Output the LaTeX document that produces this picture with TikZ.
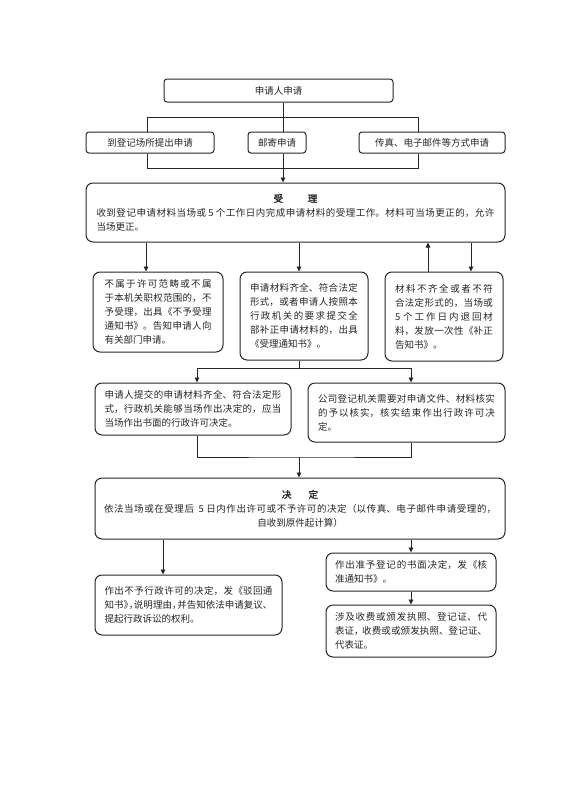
\documentclass[tikz,border=0pt]{standalone}
\usepackage{fontspec}
\setmainfont{Noto Sans CJK SC}[AutoFakeBold=2]
\usetikzlibrary{arrows.meta}
\XeTeXlinebreaklocale "zh"
\XeTeXlinebreakskip=0pt plus 3pt
\begin{document}
\begin{tikzpicture}[x=1pt,y=-1pt,
 box/.style={draw=black!85,line width=1pt,rounded corners=7pt,inner sep=0pt,
   font=\fontsize{9.5}{14}\selectfont,text=black!85,align=justify},
 sbox/.style={box,rounded corners=3pt,align=center},
 line/.style={draw=black!85,line width=0.9pt},
 arr/.style={line,-{Triangle[length=5pt,width=4.5pt]}}
]
\useasboundingbox[fill=white] (0,0) rectangle (565,800);

% row 1 and 2
\node[sbox,minimum width=229pt,minimum height=23pt] (apply) at (278.5,90.5) {申请人申请};
\node[sbox,minimum width=128pt,minimum height=21pt] (b1) at (150,142.5) {到登记场所提出申请};
\node[sbox,minimum width=58pt,minimum height=21pt] (b2) at (277,142.5) {邮寄申请};
\node[sbox,minimum width=146pt,minimum height=21pt] (b3) at (432,142.5) {传真、电子邮件等方式申请};

\coordinate (j1) at (283,117); \coordinate (j1l) at (147,117); \coordinate (j1r) at (418,117);
\coordinate (j2) at (283,168); \coordinate (j2l) at (147,168); \coordinate (j2r) at (418,168);

% accept
\node[box,minimum width=419pt,minimum height=59pt,text width=398pt] (accept) at (295.5,212.5)
 {{\centering\bfseries 受\hspace{2.6em}理\par}收到登记申请材料当场或 5 个工作日内完成申请材料的受理工作。材料可当场更正的，允许\linebreak 当场更正。};

\draw[line] (apply.south -| j1) -- (b2.north -| j1);
\draw[line] (b1.north -| j1l) |- (j1r) -- (b3.north -| j1r);
\draw[line] (b1.south -| j2l) |- (j2r) -- (b3.south -| j2r);
\draw[arr] (b2.south -| j2) -- (accept.north -| j2);

% row 3
\node[box,minimum width=130pt,minimum height=80pt,text width=107pt] (nA) at (158,312)
 {不属于许可范畴或不属\linebreak 于本机关职权范围的，不\linebreak 予受理，出具《不予受理\linebreak 通知书》。告知申请人向\linebreak 有关部门申请。};
\node[box,minimum width=128pt,minimum height=88pt,text width=108pt] (nB) at (304,316)
 {申请材料齐全、符合法定\linebreak 形式，或者申请人按照本\linebreak 行政机关的要求提交全\linebreak 部补正申请材料的，出具\linebreak 《受理通知书》。};
\node[box,minimum width=118pt,minimum height=89pt,text width=98pt] (nC) at (444,316.5)
 {材料不齐全或者不符\linebreak 合法定形式的，当场或\linebreak 5 个工作日内退回材\linebreak 料，发放一次性《补正\linebreak 告知书》。};

\coordinate (xa) at (146,0); \coordinate (xb) at (299,0);
\coordinate (xc1) at (428,0); \coordinate (xc2) at (471,0);
\draw[arr] (accept.south -| xa) -- (nA.north -| xa);
\draw[arr] (accept.south -| xb) -- (nB.north -| xb);
\draw[arr] (nC.north -| xc1) -- (accept.south -| xc1);
\draw[arr] (accept.south -| xc2) -- (nC.north -| xc2);

% row 4
\node[box,minimum width=196pt,minimum height=52pt,text width=177pt] (nD) at (193,409)
 {申请人提交的申请材料齐全、符合法定形\linebreak 式，行政机关能够当场作出决定的，应当\linebreak 当场作出书面的行政许可决定。};
\node[box,minimum width=197pt,minimum height=59pt,text width=177pt] (nE) at (406.5,412.5)
 {公司登记机关需要对申请文件、材料核实\linebreak 的予以核实，核实结束作出行政许可决\linebreak 定。};

\coordinate (k) at (299,368); \coordinate (kl) at (197,368); \coordinate (kr) at (411,368);
\draw[line] (nB.south -| k) -- (k);
\draw[arr] (k) -| (nD.north -| kl);
\draw[arr] (k) -| (nE.north -| kr);

% decide
\node[box,minimum width=410pt,minimum height=61pt,text width=392pt] (decide) at (300,508.5)
 {{\centering\bfseries 决\hspace{1.8em}定\par}{\parfillskip=0pt 依法当场或在受理后\ \ 5 日内作出许可或不予许可的决定（以传真、电子邮件申请受理的，\par}{\centering 自收到原件起计算）\par}};

\coordinate (m) at (299,457);
\draw[line] (nD.south -| kl) |- (m) -| (nE.south -| kr);
\draw[arr] (m) -- (decide.north -| m);

% results
\node[box,minimum width=187pt,minimum height=60pt,text width=168pt] (nF) at (188.5,605)
 {作出不予行政许可的决定，发《驳回通\linebreak 知书》\kern-.45em，\kern-.45em说明理由，\kern-.45em并告知依法申请复议、\linebreak 提起行政诉讼的权利。};
\node[box,minimum width=170pt,minimum height=38pt,text width=152pt] (nG) at (411,572)
 {作出准予登记的书面决定，发《核\linebreak 准通知书》。};
\node[box,minimum width=170pt,minimum height=52pt,text width=152pt] (nH) at (411,631)
 {涉及收费或颁发执照、登记证、代\linebreak 表证，\kern-.15em收费或或颁发执照、登记证、\linebreak 代表证。};

\coordinate (xf) at (163,0);
\draw[arr] (decide.south -| xf) -- (nF.north -| xf);
\draw[arr] (decide.south -| nG.north) -- (nG.north);
\draw[arr] (nG.south) -- (nH.north);
\end{tikzpicture}
\end{document}
